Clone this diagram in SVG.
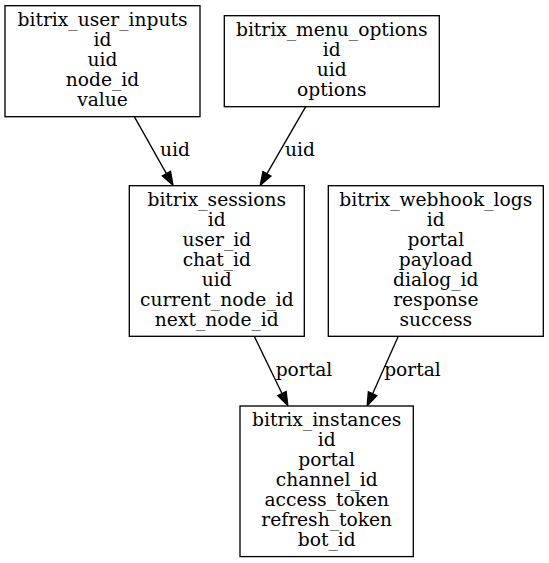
<svg xmlns="http://www.w3.org/2000/svg" width="549" height="563" viewBox="0 0 549 563">
<style>
  .box { fill: #ffffff; stroke: #000000; stroke-width: 1.33; }
  .t { font-family: "DejaVu Serif", serif; font-size: 18.67px; text-anchor: middle; fill: #000000; }
  .edge { stroke: #000000; stroke-width: 1.33; fill: none; }
</style>
<defs>
  <marker id="arrow" markerUnits="userSpaceOnUse" markerWidth="15" markerHeight="11" refX="0.5" refY="4.67" orient="auto" overflow="visible">
    <path d="M0,0 L13.33,4.67 L0,9.33 z" fill="#000000" stroke="#000000" stroke-width="1.33"/>
  </marker>
</defs>
<rect width="549" height="563" fill="#ffffff"/>
<g id="connectors">
  <g id="e1">
    <line class="edge" x1="134.3" y1="116.7" x2="166.7" y2="174.1" marker-end="url(#arrow)"/>
    <text class="t" x="175" y="155.7">uid</text>
  </g>
  <g id="e2">
    <line class="edge" x1="305.7" y1="106.7" x2="266.7" y2="174.2" marker-end="url(#arrow)"/>
    <text class="t" x="300" y="155.7">uid</text>
  </g>
  <g id="e3">
    <line class="edge" x1="254.3" y1="336.3" x2="282.2" y2="394" marker-end="url(#arrow)"/>
    <text class="t" x="304" y="375.7">portal</text>
  </g>
  <g id="e4">
    <line class="edge" x1="398.3" y1="336.3" x2="372.4" y2="394.2" marker-end="url(#arrow)"/>
    <text class="t" x="412.5" y="375.7">portal</text>
  </g>
</g>
<g id="bitrix_user_inputs">
  <rect class="box" x="5" y="5.7" width="195" height="111"/>
  <text class="t" x="102.5" y="25.7">bitrix_user_inputs</text>
  <text class="t" x="102.5" y="45.7">id</text>
  <text class="t" x="102.5" y="65.7">uid</text>
  <text class="t" x="102.5" y="85.7">node_id</text>
  <text class="t" x="102.5" y="105.7">value</text>
</g>
<g id="bitrix_menu_options">
  <rect class="box" x="224.3" y="15.7" width="215" height="91"/>
  <text class="t" x="331.8" y="35.7">bitrix_menu_options</text>
  <text class="t" x="331.8" y="55.7">id</text>
  <text class="t" x="331.8" y="75.7">uid</text>
  <text class="t" x="331.8" y="95.7">options</text>
</g>
<g id="bitrix_sessions">
  <rect class="box" x="129.3" y="185.7" width="175" height="150.6"/>
  <text class="t" x="216.8" y="205.5">bitrix_sessions</text>
  <text class="t" x="216.8" y="225.5">id</text>
  <text class="t" x="216.8" y="245.5">user_id</text>
  <text class="t" x="216.8" y="265.5">chat_id</text>
  <text class="t" x="216.8" y="285.5">uid</text>
  <text class="t" x="216.8" y="305.5">current_node_id</text>
  <text class="t" x="216.8" y="325.5">next_node_id</text>
</g>
<g id="bitrix_webhook_logs">
  <rect class="box" x="328.3" y="185.7" width="215" height="150.6"/>
  <text class="t" x="435.8" y="205.5">bitrix_webhook_logs</text>
  <text class="t" x="435.8" y="225.5">id</text>
  <text class="t" x="435.8" y="245.5">portal</text>
  <text class="t" x="435.8" y="265.5">payload</text>
  <text class="t" x="435.8" y="285.5">dialog_id</text>
  <text class="t" x="435.8" y="305.5">response</text>
  <text class="t" x="435.8" y="325.5">success</text>
</g>
<g id="bitrix_instances">
  <rect class="box" x="240" y="406" width="173.3" height="150.6"/>
  <text class="t" x="326.7" y="425.8">bitrix_instances</text>
  <text class="t" x="326.7" y="445.8">id</text>
  <text class="t" x="326.7" y="465.8">portal</text>
  <text class="t" x="326.7" y="485.8">channel_id</text>
  <text class="t" x="326.7" y="505.8">access_token</text>
  <text class="t" x="326.7" y="525.8">refresh_token</text>
  <text class="t" x="326.7" y="545.8">bot_id</text>
</g>
</svg>
